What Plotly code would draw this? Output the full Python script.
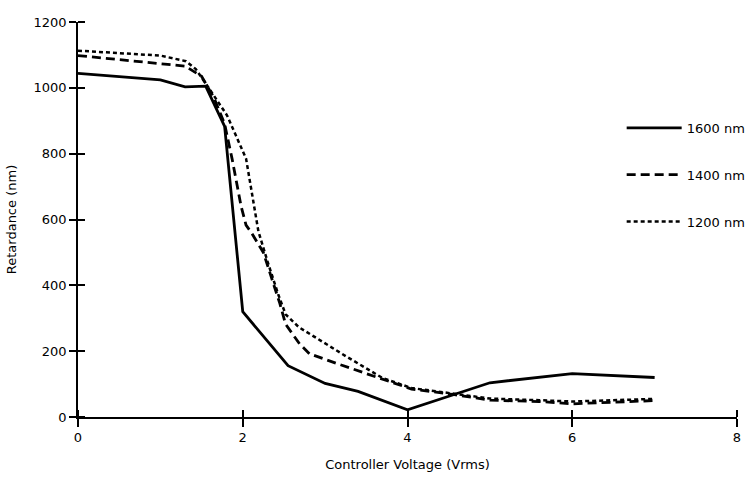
import plotly.graph_objects as go

# ---- data ----
voltage_1600 = [0.0, 1.0, 1.3, 1.55, 1.78, 2.0, 2.55, 3.0, 3.4, 3.7, 4.0, 5.0, 6.0, 7.0]
ret_1600 = [1044, 1024, 1003, 1005, 883, 320, 156, 102, 78, 50, 22, 104, 132, 120]

voltage_1400 = [0.0, 1.3, 1.5, 1.65, 1.78, 1.87, 1.98, 2.04, 2.11, 2.25, 2.45, 2.52,
                2.69, 2.81, 3.17, 3.5, 3.75, 4.05, 4.57, 5.0, 5.6, 6.0, 7.0]
ret_1400 = [1098, 1066, 1035, 970, 890, 785, 640, 583, 558, 500, 345, 282,
            222, 192, 160, 132, 110, 85, 68, 51, 47, 40, 50]

voltage_1200 = [0.0, 1.0, 1.31, 1.43, 1.6, 1.81, 2.04, 2.14, 2.19, 2.30, 2.43, 2.52,
                2.68, 3.25, 3.7, 4.05, 4.57, 5.0, 5.6, 6.0, 7.0]
ret_1200 = [1113, 1098, 1081, 1057, 995, 916, 785, 640, 564, 473, 373, 312,
            273, 185, 118, 88, 70, 56, 51, 47, 55]

series_names = ["1600 nm", "1400 nm", "1200 nm"]
x_ticks = [0, 2, 4, 6, 8]
y_ticks = [0, 200, 400, 600, 800, 1000, 1200]

FONT = "DejaVu Sans"

fig = go.Figure()
fig.add_trace(go.Scatter(x=voltage_1600, y=ret_1600, mode="lines", name=series_names[0],
                         legendgroup="a", line=dict(color="black", width=2.8, dash="solid")))
fig.add_trace(go.Scatter(x=voltage_1400, y=ret_1400, mode="lines", name=series_names[1],
                         legendgroup="b", line=dict(color="black", width=2.8, dash="9px,5px")))
fig.add_trace(go.Scatter(x=voltage_1200, y=ret_1200, mode="lines", name=series_names[2],
                         legendgroup="c", line=dict(color="black", width=2.5, dash="4px,3px")))

axis_common = dict(showgrid=False, zeroline=False, showline=True, linecolor="black",
                   linewidth=1.5, tickcolor="black", tickwidth=1.5,
                   tickfont=dict(family=FONT, size=13, color="black"))

# inner half of the crossing ticks: minor ticks nudged by a negligible amount so they
# are not merged away with the major ticks
x_inner = [v + 1e-6 for v in x_ticks[:-1]] + [x_ticks[-1] - 1e-6]
y_inner = [v + 1e-4 for v in y_ticks[:-1]] + [y_ticks[-1] - 1e-4]

fig.update_layout(
    width=756, height=483,
    margin=dict(l=78, r=19, t=22, b=66, autoexpand=False),
    paper_bgcolor="white", plot_bgcolor="white",
    font=dict(family=FONT, size=13, color="black"),
    xaxis=dict(range=[0, 8], tickvals=x_ticks, ticks="outside", ticklen=8,
               minor=dict(tickmode="array", tickvals=x_inner, ticks="inside", ticklen=7,
                          tickwidth=1.5, tickcolor="black", showgrid=False),
               title=dict(text="Controller Voltage (Vrms)", font=dict(family=FONT, size=13),
                          standoff=16),
               **axis_common),
    yaxis=dict(range=[0, 1200], tickvals=y_ticks, ticks="outside", ticklen=7,
               minor=dict(tickmode="array", tickvals=y_inner, ticks="inside", ticklen=7,
                          tickwidth=1.5, tickcolor="black", showgrid=False),
               title=dict(text="Retardance (nm)", font=dict(family=FONT, size=13),
                          standoff=14),
               **axis_common),
    legend=dict(x=0.825, y=0.77, xanchor="left", yanchor="top", bgcolor="rgba(0,0,0,0)",
                font=dict(family=FONT, size=13), itemwidth=55, tracegroupgap=27),
)

fig.write_html("out.html")
